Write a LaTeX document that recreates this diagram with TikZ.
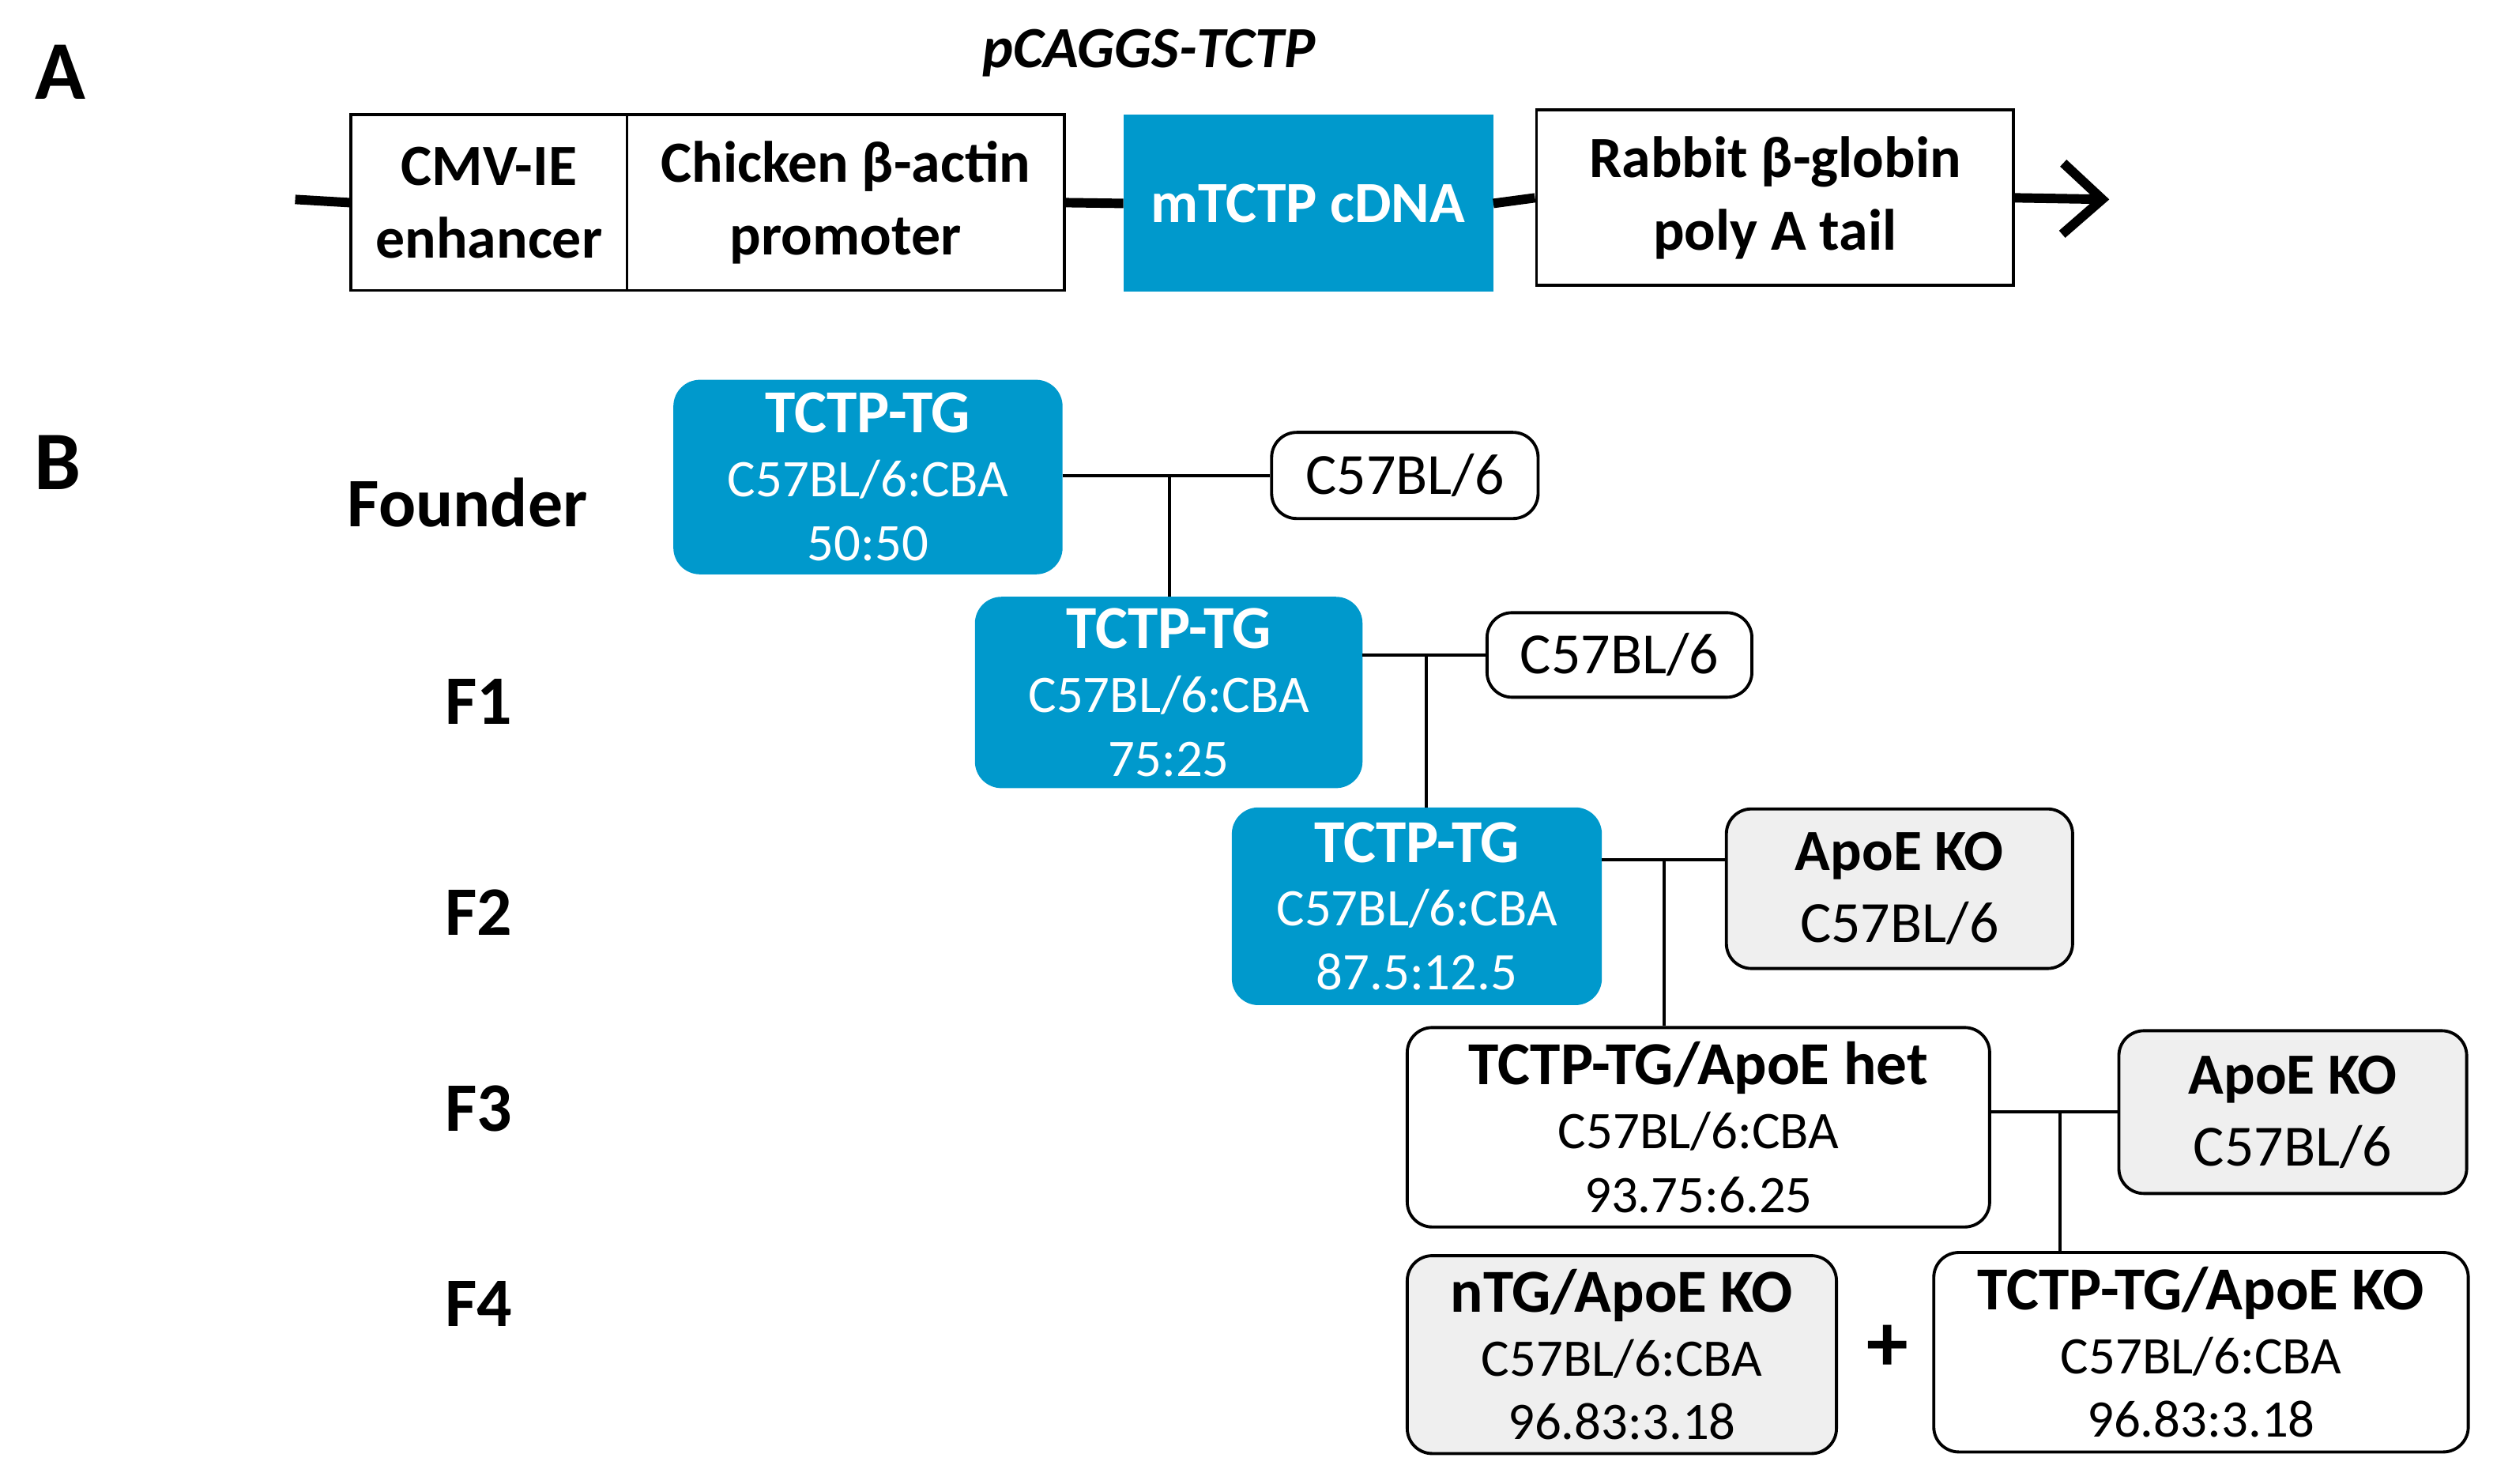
\documentclass[tikz,border=0pt]{standalone}
\usepackage{fontspec}
\setmainfont{Carlito}
\usetikzlibrary{arrows.meta}
\definecolor{tgblue}{RGB}{0,153,204}
\definecolor{kogray}{RGB}{239,239,239}
\tikzstyle{box}=[draw,line width=1.1pt,inner sep=0pt,align=center,
  font=\fontsize{21}{26}\selectfont]
\tikzstyle{tg}=[box,rounded corners=9pt,fill=tgblue,draw=tgblue,text=white,
  font=\fontsize{19}{23}\selectfont]
\tikzstyle{ped}=[box,rounded corners=9pt]
\tikzstyle{gen}=[font=\fontsize{25}{30}\selectfont\bfseries]
\tikzstyle{link}=[line width=1.1pt]

\begin{document}
\begin{tikzpicture}[x=0.2019mm, y=-0.2019mm,
  sz/.style 2 args={minimum width=#1*0.2019mm, minimum height=#2*0.2019mm}]
  \useasboundingbox (0,0) rectangle (1565,930);
  % A
  \node[gen,font=\fontsize{30}{34}\selectfont\bfseries] (lA) at (38,45) {A};
  \node[font=\fontsize{21}{26}\selectfont\bfseries\itshape] (title) at (720,33) {pCAGGS-TCTP};
  \node[box,sz={173}{110},font=\fontsize{21}{26}\selectfont\bfseries] (cmv) at (306.5,127) {CMV-IE\\enhancer};
  \node[box,sz={274}{110},font=\fontsize{21}{26}\selectfont\bfseries] (chick) at (530,127) {Chicken β-actin\\promoter};
  \node[box,sz={230}{109},fill=tgblue,draw=tgblue,text=white,font=\fontsize{21}{26}\selectfont\bfseries] (cdna) at (820,127.5) {mTCTP cDNA};
  \node[box,sz={299}{110},font=\fontsize{21}{26}\selectfont\bfseries] (rabbit) at (1112.5,124) {Rabbit β-globin\\poly A tail};
  \coordinate (start) at (185,125);
  \coordinate (stop) at (1322,125);
  \draw[line width=3.4pt] (start) -- (cmv.west) (chick.east) -- (cdna.west)
    (cdna.east) -- (rabbit.west);
  \draw[line width=3.4pt,-{Straight Barb[length=5mm,width=9mm]}] (rabbit.east) -- (stop);

  % B
  \node[gen,font=\fontsize{30}{34}\selectfont\bfseries] (lB) at (36,290) {B};
  \node[gen] (gF) at (293,315) {Founder};
  \node[gen] (g1) at (300,440) {F1};
  \node[gen] (g2) at (300,572) {F2};
  \node[gen] (g3) at (300,695) {F3};
  \node[gen] (g4) at (300,817) {F4};

  \node[tg,sz={242}{120}] (tg1) at (544,299) {{\fontsize{22}{26}\selectfont\bfseries TCTP-TG}\\C57BL/6:CBA\\50:50};
  \node[ped,sz={167}{54}] (c1) at (880.5,298) {C57BL/6};
  \node[tg,sz={241}{118}] (tg2) at (732.5,434) {{\fontsize{22}{26}\selectfont\bfseries TCTP-TG}\\C57BL/6:CBA\\75:25};
  \node[ped,sz={166}{53}] (c2) at (1015,410.5) {C57BL/6};
  \node[tg,sz={230}{122}] (tg3) at (888,568) {{\fontsize{22}{26}\selectfont\bfseries TCTP-TG}\\C57BL/6:CBA\\87.5:12.5};
  \node[ped,sz={217}{100},fill=kogray] (apo1) at (1190.5,557) {{\bfseries ApoE KO}\\C57BL/6};
  \node[ped,sz={365}{125},font=\fontsize{19}{23}\selectfont] (het) at (1064.5,706.5) {{\fontsize{22}{26}\selectfont\bfseries TCTP-TG/ApoE het}\\C57BL/6:CBA\\93.75:6.25};
  \node[ped,sz={218}{102},fill=kogray] (apo2) at (1437,697) {{\bfseries ApoE KO}\\C57BL/6};
  \node[ped,sz={269}{124},fill=kogray,font=\fontsize{19}{23}\selectfont] (ntg) at (1016.5,849) {{\fontsize{22}{26}\selectfont\bfseries nTG/ApoE KO}\\C57BL/6:CBA\\96.83:3.18};
  \node[font=\fontsize{30}{34}\selectfont\bfseries] (plus) at (1183,845) {+};
  \node[ped,sz={335}{125},font=\fontsize{19}{23}\selectfont] (ko) at (1379.5,847.5) {{\fontsize{22}{26}\selectfont\bfseries TCTP-TG/ApoE KO}\\C57BL/6:CBA\\96.83:3.18};

  \coordinate (j1) at (733,298);
  \coordinate (j2) at (894,410.5);
  \coordinate (j3) at (1043,539);
  \coordinate (j4) at (1291,697);
  \draw[link] (tg1.east |- c1) -- (c1.west) (j1) -- (j1 |- tg2.north);
  \draw[link] (tg2.east |- c2) -- (c2.west) (j2) -- (j2 |- tg3.north);
  \draw[link] (tg3.east |- j3) -- (apo1.west |- j3) (j3) -- (j3 |- het.north);
  \draw[link] (het.east |- apo2) -- (apo2.west) (j4) -- (j4 |- ko.north);
\end{tikzpicture}
\end{document}
